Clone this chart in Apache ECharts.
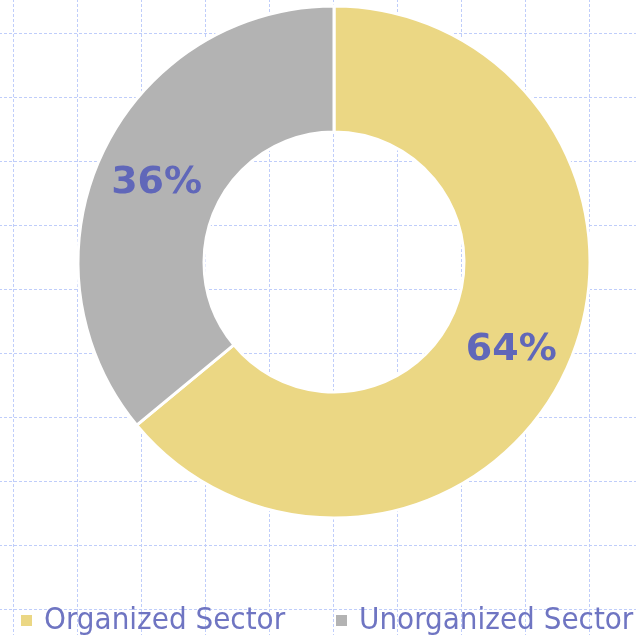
<!DOCTYPE html>
<html>
<head>
<meta charset="utf-8">
<script src="https://cdn.jsdelivr.net/npm/echarts@6/dist/echarts.min.js"></script>
<style>
	html, body { margin: 0; padding: 0; background: #fff; }
	#EPie { width: 636px; height: 635px; }
</style>
</head>
<body>
<div id="EPie"></div>
<script>
	var sectorNames = ['Organized Sector', 'Unorganized Sector'];
	var sectorShares = [64, 36];
	var sectorColors = ['#ebd784', '#b3b3b3'];

	var pieChart = echarts.init(document.getElementById('EPie'));

	var pieData = [];
	for (var i = 0; i < sectorNames.length; i++) {
		pieData.push({
			value: sectorShares[i],
			name: sectorNames[i],
			itemStyle: { color: sectorColors[i] }
		});
	}

	// dashed background grid, like the slide behind the chart
	function gridLine() {
		return {
			show: true,
			lineStyle: { color: '#bfcdfa', width: 1, type: [3, 2] }
		};
	}

	function legendAt(x, name) {
		return {
			left: x,
			top: 605,
			padding: 0,
			icon: 'rect',
			itemWidth: 13,
			itemHeight: 13,
			textStyle: {
				fontFamily: 'DejaVu Sans Condensed',
				fontSize: 31,
				color: '#6f75c2',
				padding: [0, 0, 0, 6]
			},
			data: [name]
		};
	}

	option = {
		animation: false,
		backgroundColor: '#fff',
		grid: { left: -51, top: -31, width: 704, height: 704, outerBoundsMode: 'none' },
		xAxis: {
			type: 'value', min: 0, max: 11, interval: 1,
			axisLine: { show: false }, axisTick: { show: false }, axisLabel: { show: false },
			splitLine: gridLine()
		},
		yAxis: {
			type: 'value', min: 0, max: 11, interval: 1,
			axisLine: { show: false }, axisTick: { show: false }, axisLabel: { show: false },
			splitLine: gridLine()
		},
		legend: [
			legendAt(19, sectorNames[0]),
			legendAt(334, sectorNames[1])
		],
		series: [
			{
				type: 'pie',
				center: [334, 262],
				radius: [130, 256],
				startAngle: 90,
				clockwise: true,
				z: 5,
				itemStyle: { borderColor: '#fff', borderWidth: 3 },
				label: {
					show: true,
					position: 'inside',
					formatter: '{c}%',
					fontFamily: 'DejaVu Sans',
					fontWeight: 'bold',
					fontSize: 38,
					color: '#6067b9',
					offset: [0, 5]
				},
				labelLine: { show: false },
				emphasis: { disabled: true },
				data: pieData
			}
		]
	};

	pieChart.setOption(option);

	window.onresize = function () {
		pieChart.resize();
	};
</script>
</body>
</html>
